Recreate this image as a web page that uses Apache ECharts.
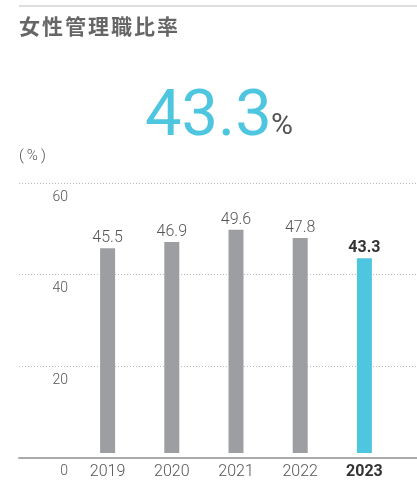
<!DOCTYPE html>
<html>
<head>
<meta charset="utf-8">
<script src="https://cdn.jsdelivr.net/npm/echarts@6/dist/echarts.min.js"></script>
<style>
  html, body { margin: 0; padding: 0; background: #fff; }
  #chart { width: 417px; height: 480px; }
</style>
</head>
<body>
<div id="chart"></div>
<script>
const years = ['2019', '2020', '2021', '2022', '2023']
const ratios = [45.5, 46.9, 49.6, 47.8, 43.3]
const yTicks = [0, 20, 40, 60]
const headline = '43.3'
const highlightYear = '2023'
const titleText = '女性管理職比率'

const grey = '#9d9ea2'
const cyan = '#4ec6e0'

const chart = echarts.init(document.getElementById('chart'))

const barData = ratios.map((v, i) => {
  const hi = years[i] === highlightYear
  return {
    value: v,
    itemStyle: { color: hi ? cyan : grey },
    label: hi ? { fontWeight: 'bold', color: '#333' } : {}
  }
})

// title drawn char by char to get the wide tracking
const titleChars = titleText.split('').map((ch, i) => ({
  type: 'text',
  x: 19 + i * 23,
  y: 16,
  style: {
    text: ch,
    font: 'bold 21px "Noto Sans CJK JP"',
    fill: '#666'
  }
}))

const option = {
  animation: false,
  textStyle: { fontFamily: 'Roboto' },
  graphic: [
    {
      type: 'rect',
      shape: { x: 19, y: 5, width: 398, height: 2 },
      style: { fill: '#dedede' }
    },
    { type: 'group', children: titleChars },
    {
      type: 'text',
      x: 145, y: 86,
      style: {
        text: headline,
        font: '400 65px Roboto',
        fill: cyan
      }
    },
    {
      type: 'text',
      x: 271, y: 111,
      style: {
        text: '%',
        font: '400 30px Roboto',
        fill: '#555'
      }
    },
    {
      type: 'text',
      left: 19, top: 149,
      style: { text: '(\u2009%\u2009)', font: '300 15px Roboto', fill: '#555' }
    }
  ],
  grid: [
    { left: 19, right: 0, top: 183, bottom: 22.5 },
    { left: 75.5, right: 20.5, top: 183, bottom: 22.5 }
  ],
  xAxis: [
    {
      gridIndex: 0,
      type: 'category',
      data: [''],
      axisLine: { lineStyle: { color: '#aaa', width: 2 } },
      axisTick: { show: false },
      axisLabel: { show: false }
    },
    {
      gridIndex: 1,
      type: 'category',
      data: years,
      axisLine: { show: false },
      axisTick: { show: false },
      axisLabel: {
        interval: 0,
        margin: 11,
        fontSize: 16,
        fontWeight: 300,
        color: '#555',
        formatter: v => v === highlightYear ? '{b|' + v + '}' : v,
        rich: { b: { fontSize: 16, fontWeight: 'bold', color: '#333' } }
      }
    }
  ],
  yAxis: [
    {
      gridIndex: 0,
      type: 'value',
      min: yTicks[0],
      max: yTicks[yTicks.length - 1],
      interval: 20,
      axisLine: { show: false },
      axisTick: { show: false },
      splitLine: { lineStyle: { color: '#bbb', type: [1, 2], width: 1 } },
      axisLabel: {
        inside: true,
        margin: 49,
        align: 'right',
        verticalAlign: 'top',
        padding: [7, 0, 0, 0],
        fontSize: 14,
        fontWeight: 300,
        color: '#555'
      }
    },
    {
      gridIndex: 1,
      type: 'value',
      min: yTicks[0],
      max: yTicks[yTicks.length - 1],
      interval: 20,
      show: false
    }
  ],
  series: [
    {
      type: 'bar',
      xAxisIndex: 1,
      yAxisIndex: 1,
      data: barData,
      barWidth: 15,
      label: {
        show: true,
        position: 'top',
        distance: 2,
        fontSize: 16,
        fontWeight: 300,
        color: '#555'
      }
    }
  ]
}

chart.setOption(option)

window.addEventListener('resize', () => {
  chart.resize()
})
</script>
</body>
</html>
